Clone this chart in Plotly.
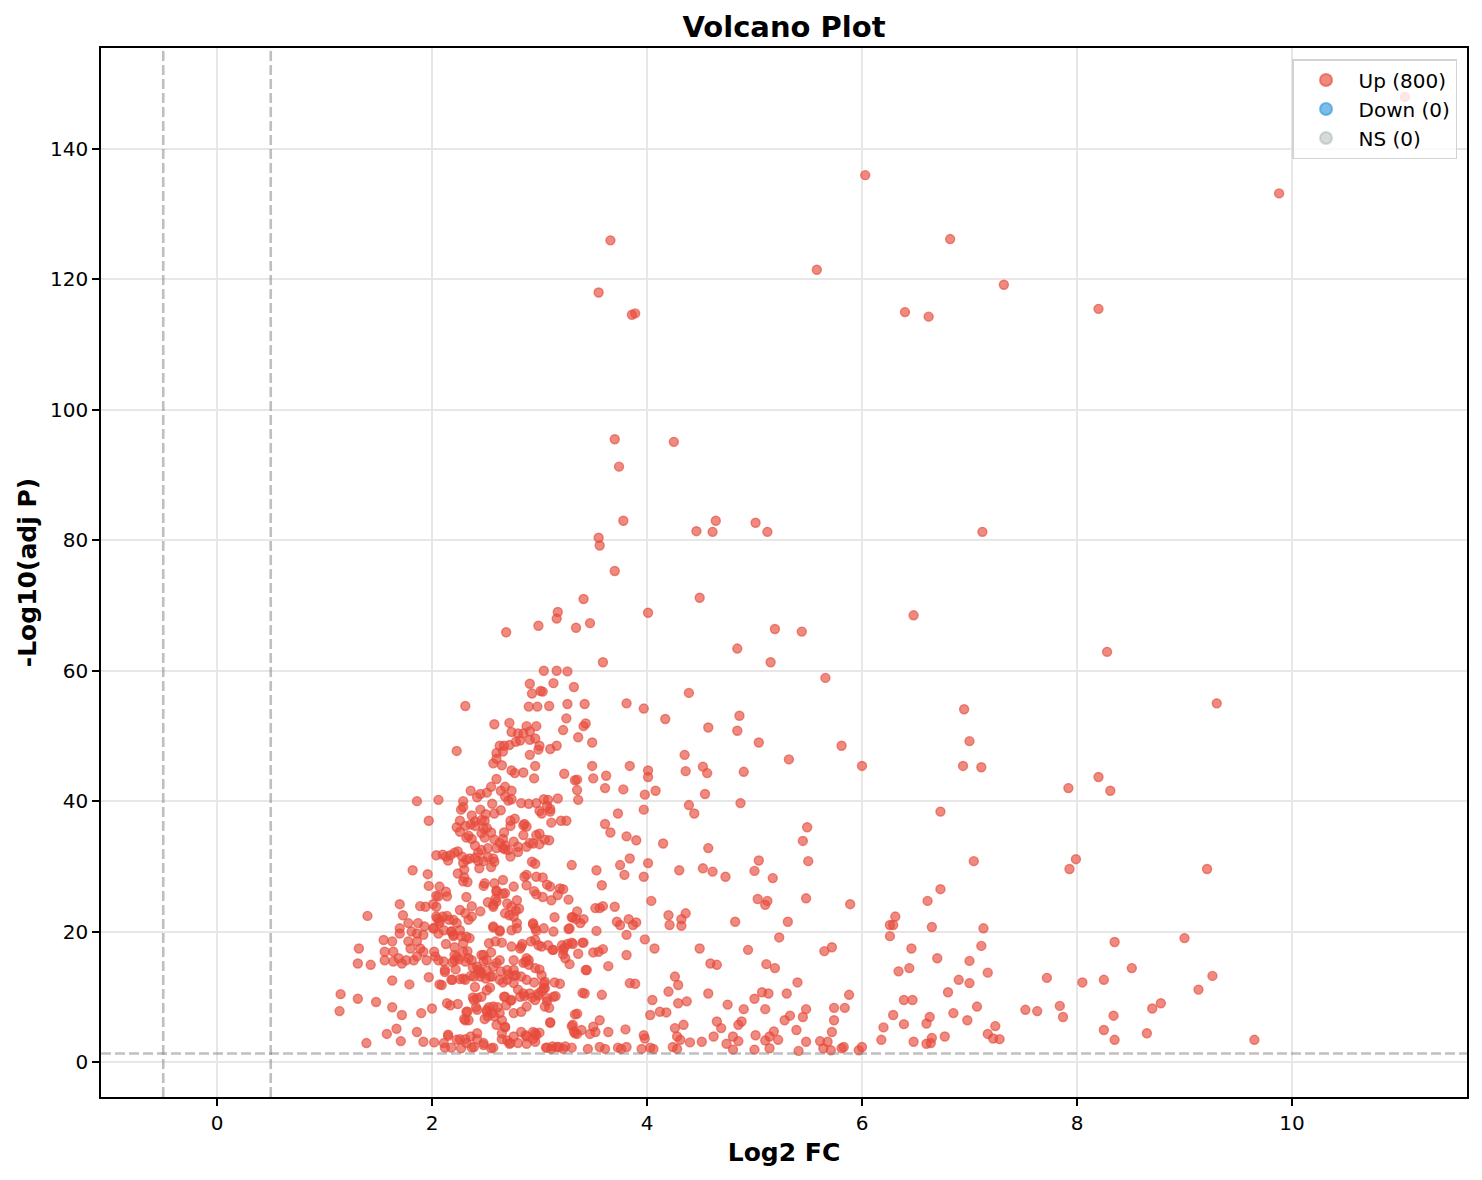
import plotly.graph_objects as go

# values: (log2 fold change, -log10 adjusted p)
# sparse upper part of the cloud
upper_pts = [
    (11.05, 148.0), (6.03, 136.0), (9.88, 133.2), (3.66, 126.0), (6.82, 126.2),
    (5.58, 121.5), (7.32, 119.2), (3.55, 118.0), (6.40, 115.0), (6.62, 114.3),
    (8.20, 115.5), (3.86, 114.6), (3.89, 114.8), (3.70, 95.5), (4.25, 95.1),
    (3.74, 91.3), (3.78, 83.0), (4.64, 83.0), (5.01, 82.7), (3.55, 80.4),
    (3.56, 79.2), (4.46, 81.4), (4.61, 81.3), (5.12, 81.3), (7.12, 81.3),
    (3.70, 75.3), (4.49, 71.2), (3.41, 71.0), (3.17, 69.0), (4.01, 68.9),
    (3.16, 68.0), (6.48, 68.5), (3.47, 67.3), (2.69, 65.9), (2.99, 66.9),
    (3.34, 66.6), (5.19, 66.4), (5.44, 66.0), (4.84, 63.4), (8.28, 62.9),
    (3.59, 61.3), (5.15, 61.3), (3.04, 60.0), (3.16, 60.0), (3.26, 59.9),
    (2.91, 58.0), (3.13, 58.1), (3.32, 57.5), (3.01, 56.9), (3.03, 56.8),
    (2.93, 56.5), (4.39, 56.6), (5.66, 58.9), (9.30, 55.0), (6.95, 54.1),
    (4.86, 53.1), (4.84, 50.8),
]

# x < 2.8, y 28-55
left_mid_pts = [
    (2.31, 54.6), (2.58, 51.8), (2.72, 52.0), (2.74, 50.6), (2.63, 48.5),
    (2.67, 48.5), (2.72, 48.6), (2.60, 47.4), (2.66, 47.6), (2.57, 45.8),
    (2.65, 45.5), (2.23, 47.7), (2.74, 44.7), (2.77, 44.3), (2.60, 43.4),
    (2.68, 42.2), (2.74, 41.6), (2.64, 41.6), (2.36, 41.6), (2.42, 40.6),
    (2.45, 41.1), (2.51, 41.3), (1.86, 40.0), (2.06, 40.2), (1.97, 37.0),
    (2.29, 40.0), (2.29, 39.1), (2.37, 37.8), (2.45, 38.7), (2.36, 36.4),
    (2.40, 36.2), (2.46, 37.1), (2.49, 37.0), (2.31, 36.2), (2.34, 34.7),
    (2.32, 34.4), (2.37, 34.2), (2.46, 35.1), (2.49, 34.4), (2.55, 35.2),
    (2.58, 34.1), (2.67, 35.2), (2.73, 36.2), (2.40, 33.2), (2.43, 32.1),
    (2.52, 32.8), (2.60, 32.8), (2.66, 32.8), (2.21, 32.1), (2.24, 32.3),
    (2.40, 31.3), (2.43, 30.8), (2.04, 31.7), (2.13, 31.5), (2.17, 31.7),
    (2.29, 30.5), (2.30, 29.5), (2.32, 31.0), (2.44, 29.7), (2.55, 29.9),
    (2.57, 31.2), (2.58, 30.7), (2.73, 31.5), (2.68, 32.6), (1.82, 29.4),
    (1.96, 28.8), (2.24, 28.9), (2.33, 27.6), (2.48, 27.0), (2.58, 27.4),
    (2.66, 27.9),
]

# x < 2.8, y below 28
left_low_pts = [
    (1.40, 22.4), (1.70, 24.2), (1.32, 17.4), (1.31, 15.1), (1.43, 14.9),
    (1.15, 10.4), (1.14, 7.8), (1.31, 9.7), (1.48, 9.2), (1.63, 12.5),
    (1.79, 11.9), (1.63, 8.4), (1.72, 7.2), (1.67, 5.1), (1.58, 4.3),
    (1.39, 2.9), (1.71, 3.2), (1.86, 4.6), (1.92, 3.1), (1.90, 7.5),
    (2.00, 8.2), (1.97, 13.0), (2.09, 11.8), (2.17, 8.7), (2.19, 12.6),
    (2.15, 4.2), (2.02, 3.0), (1.97, 27.0), (2.07, 26.9), (2.13, 26.1),
    (2.14, 25.4), (1.89, 23.9), (1.94, 23.8), (2.04, 25.5), (2.04, 23.8),
    (2.32, 25.3), (2.37, 23.9), (2.45, 23.1), (2.29, 27.7), (2.49, 27.4),
    (2.60, 26.1), (2.68, 25.9), (2.76, 26.9), (2.79, 24.8), (2.60, 24.6),
    (2.70, 24.3), (1.73, 22.5), (1.78, 21.3), (1.87, 21.3), (1.93, 20.8),
    (1.70, 20.5), (1.70, 19.7), (1.81, 20.0), (1.86, 19.7), (1.92, 19.5),
    (2.04, 22.3), (2.14, 22.4), (2.20, 21.8), (2.23, 21.3), (2.07, 21.3),
    (2.01, 20.5), (2.06, 19.7), (2.11, 20.2), (2.18, 20.0), (2.20, 19.5),
    (2.26, 20.2), (2.34, 21.8), (2.26, 23.3), (2.31, 22.8), (2.37, 22.3),
    (1.55, 18.7), (1.63, 18.5), (1.56, 16.9), (1.64, 16.9), (1.56, 15.6),
    (1.64, 15.4), (1.72, 15.1), (1.69, 15.9), (1.76, 15.6), (1.80, 17.4),
    (1.78, 18.5), (1.86, 18.5), (1.89, 17.4), (1.83, 15.6), (1.86, 16.2),
    (1.92, 16.9), (1.95, 15.6), (2.03, 16.2), (2.11, 15.4), (2.12, 14.1),
    (2.21, 15.6), (2.21, 16.4), (2.29, 18.2), (2.29, 16.9), (2.35, 19.0),
    (2.31, 15.4), (2.37, 15.6), (2.42, 14.6), (2.48, 16.4), (2.51, 15.6),
    (2.45, 13.9), (2.57, 14.6), (2.63, 15.6), (2.70, 14.1), (2.76, 14.1),
    (2.76, 15.6), (2.57, 20.8), (2.63, 20.2), (2.74, 20.2), (2.79, 21.3),
    (2.76, 22.3), (2.68, 22.8), (2.57, 23.8), (2.18, 12.6), (2.29, 12.8),
    (2.39, 13.1), (2.45, 13.1), (2.51, 11.0), (2.54, 13.1), (2.63, 12.6),
    (2.70, 12.6), (2.76, 12.1), (2.42, 9.8), (2.46, 10.0), (2.39, 9.5),
    (2.32, 7.7), (2.31, 6.4), (2.42, 8.0), (2.51, 8.0), (2.56, 7.5),
    (2.57, 8.5), (2.52, 7.0), (2.63, 7.5), (2.65, 6.4), (2.68, 5.4),
    (2.76, 7.5), (2.74, 9.5), (2.68, 10.0), (2.65, 4.4), (2.76, 3.9),
    (2.11, 2.9), (2.18, 2.2), (2.26, 3.5), (2.32, 2.9), (2.37, 2.2),
    (2.42, 3.5), (2.48, 2.9), (2.57, 2.2), (2.65, 3.5), (2.73, 2.9),
]

# x 2.8-4.7, y 28-55
centre_mid_pts = [
    (2.90, 54.5), (2.98, 54.5), (3.09, 54.6), (3.26, 54.9), (3.42, 54.9),
    (3.81, 55.0), (3.97, 54.2), (4.17, 52.6), (4.57, 51.3), (3.25, 52.7),
    (3.22, 50.9), (3.36, 49.8), (3.41, 51.5), (3.43, 51.9), (3.49, 49.0),
    (2.88, 51.5), (2.97, 51.5), (2.85, 50.4), (2.91, 50.7), (2.96, 49.6),
    (2.91, 49.4), (3.00, 48.5), (3.10, 48.0), (3.16, 48.5), (2.99, 47.9),
    (2.91, 47.1), (4.35, 47.1), (4.36, 44.6), (4.52, 45.3), (4.56, 44.3),
    (2.96, 45.4), (2.95, 43.5), (2.85, 44.4), (3.23, 44.2), (3.35, 43.3),
    (3.35, 41.7), (3.36, 40.2), (3.49, 45.4), (3.50, 43.5), (3.62, 43.9),
    (3.61, 42.0), (3.78, 41.8), (3.84, 45.4), (4.01, 44.7), (4.01, 43.7),
    (3.98, 41.0), (4.08, 41.6), (3.97, 38.7), (4.54, 41.1), (2.90, 39.6),
    (2.97, 39.7), (3.04, 40.3), (3.08, 40.2), (3.17, 40.4), (3.07, 39.3),
    (3.10, 38.4), (3.02, 38.1), (3.11, 36.7), (3.25, 37.0), (3.73, 38.1),
    (3.61, 36.5), (3.66, 35.2), (3.81, 34.6), (3.90, 34.0), (4.15, 33.5),
    (4.39, 39.4), (4.44, 38.1), (4.57, 32.8), (2.85, 36.3), (2.88, 36.1),
    (2.85, 34.8), (2.88, 33.0), (2.94, 33.5), (3.00, 33.4), (2.97, 34.8),
    (3.09, 34.0), (2.93, 30.7), (2.96, 30.4), (2.88, 28.7), (2.97, 28.4),
    (3.30, 30.2), (3.53, 29.4), (3.75, 30.2), (3.84, 31.2), (4.01, 30.5),
    (4.30, 29.4), (4.52, 29.7), (4.61, 29.2), (3.79, 28.7), (3.97, 28.4),
]

# x 2.8-4.7, y below 28
centre_low_pts = [
    (3.58, 27.1), (3.10, 26.9), (3.19, 26.6), (3.11, 24.8), (3.17, 25.6),
    (4.04, 24.7), (3.52, 23.6), (3.56, 23.6), (3.59, 23.9), (3.70, 23.8),
    (4.20, 22.5), (4.21, 21.0), (4.32, 21.9), (4.36, 22.8), (4.32, 20.9),
    (3.14, 22.2), (3.31, 22.2), (3.41, 21.9), (3.38, 21.3), (3.27, 20.4),
    (3.53, 20.1), (3.72, 21.5), (3.75, 21.0), (3.83, 21.9), (3.90, 21.4),
    (3.87, 21.0), (3.81, 19.5), (3.98, 18.8), (4.07, 17.4), (4.49, 17.4),
    (4.59, 15.1), (4.65, 14.9), (2.94, 21.3), (2.96, 20.5), (3.04, 20.5),
    (3.13, 20.0), (2.96, 18.7), (3.02, 17.7), (3.08, 17.9), (3.13, 17.2),
    (3.21, 17.9), (3.22, 17.2), (3.30, 18.3), (3.41, 18.3), (3.24, 15.9),
    (3.28, 15.0), (3.50, 16.8), (3.55, 16.9), (3.59, 17.3), (3.81, 16.4),
    (3.64, 14.7), (3.44, 14.1), (2.83, 17.7), (2.87, 15.4), (2.90, 15.6),
    (2.83, 13.1), (2.88, 12.6), (2.96, 14.4), (3.02, 13.3), (3.05, 12.3),
    (2.85, 10.5), (2.91, 10.5), (2.99, 10.5), (3.04, 11.3), (3.07, 9.8),
    (3.13, 10.0), (3.05, 8.5), (2.88, 8.5), (2.83, 7.7), (3.19, 12.0),
    (3.42, 10.5), (3.58, 10.3), (3.84, 12.1), (3.89, 12.0), (4.26, 13.1),
    (4.29, 11.8), (4.20, 10.8), (4.57, 10.5), (4.05, 9.5), (4.12, 7.7),
    (4.18, 7.6), (4.29, 9.0), (4.37, 9.3), (3.35, 7.4), (3.31, 5.7),
    (3.39, 4.9), (3.33, 4.4), (3.50, 5.4), (3.52, 4.6), (3.56, 6.4),
    (3.64, 4.6), (3.80, 5.0), (3.97, 4.1), (3.98, 3.6), (4.03, 7.2),
    (4.26, 5.2), (4.34, 5.7), (4.28, 3.9), (4.31, 3.4), (4.65, 6.2),
    (4.62, 3.9), (4.51, 3.1), (4.40, 3.0), (2.94, 4.6), (2.97, 4.1),
    (2.96, 3.1), (2.87, 4.1), (3.10, 6.0), (2.88, 2.8), (3.07, 2.2),
    (3.11, 2.0), (3.16, 2.3), (3.22, 2.0), (3.30, 2.2), (3.45, 2.0),
    (3.56, 2.3), (3.61, 2.0), (3.73, 2.2), (3.76, 2.0), (3.81, 2.3),
    (3.95, 2.0), (4.03, 2.2), (4.06, 2.0), (4.24, 2.3), (4.28, 2.0),
]

# x 4.7-7.5
right_pts = [
    (5.04, 49.0), (5.81, 48.5), (5.32, 46.4), (4.90, 44.5), (6.00, 45.4),
    (6.94, 45.4), (7.11, 45.2), (7.00, 49.2), (4.87, 39.7), (6.73, 38.4),
    (5.49, 36.0), (5.45, 33.9), (5.50, 30.8), (7.04, 30.8), (4.73, 28.4),
    (5.00, 29.3), (5.04, 30.9), (5.17, 28.2), (6.73, 26.5), (6.61, 24.7),
    (5.03, 25.0), (5.10, 24.1), (5.12, 24.7), (5.48, 25.1), (5.89, 24.2),
    (4.82, 21.5), (5.31, 21.5), (5.23, 19.1), (6.26, 21.0), (6.29, 21.0),
    (6.31, 22.3), (6.26, 19.3), (6.65, 20.7), (6.46, 17.4), (6.70, 15.9),
    (7.13, 20.5), (7.11, 17.8), (4.94, 17.2), (5.11, 15.0), (5.19, 14.4),
    (5.65, 17.0), (5.72, 17.6), (5.40, 12.2), (5.30, 10.5), (5.07, 10.7),
    (5.13, 10.5), (5.00, 9.7), (4.75, 8.8), (4.90, 8.1), (5.10, 8.1),
    (5.48, 8.1), (5.74, 8.3), (5.84, 8.3), (5.88, 10.3), (6.34, 13.9),
    (6.44, 14.4), (6.90, 12.6), (7.00, 15.5), (7.00, 12.1), (7.17, 13.7),
    (6.80, 10.7), (6.39, 9.5), (6.47, 9.5), (6.29, 7.2), (6.20, 5.3),
    (6.39, 5.8), (6.85, 7.5), (6.98, 6.4), (7.07, 8.5), (6.60, 5.9),
    (6.63, 6.9), (7.24, 5.5), (7.17, 4.3), (7.22, 3.6), (7.28, 3.5),
    (6.18, 3.4), (6.48, 3.1), (6.60, 2.8), (6.64, 2.9), (6.65, 3.7),
    (6.77, 3.9), (4.69, 5.2), (4.74, 2.8), (4.80, 1.9), (4.80, 3.9),
    (4.85, 5.7), (4.88, 6.2), (4.85, 3.2), (5.01, 4.1), (5.00, 1.9),
    (5.10, 3.3), (5.14, 2.1), (5.14, 3.9), (5.18, 4.7), (5.22, 3.4),
    (5.28, 6.4), (5.33, 7.1), (5.39, 4.9), (5.45, 6.9), (5.48, 3.1),
    (5.41, 1.7), (5.61, 3.2), (5.64, 2.1), (5.68, 3.1), (5.71, 1.8),
    (5.72, 4.6), (5.74, 6.4), (5.81, 2.1), (5.83, 2.3), (5.97, 1.8),
    (6.00, 2.3),
]

# x beyond 7.5
far_right_pts = [
    (7.92, 42.0), (8.20, 43.7), (8.31, 41.6), (7.99, 31.1), (7.93, 29.6),
    (9.21, 29.6), (8.35, 18.4), (9.00, 19.0), (8.51, 14.4), (9.26, 13.2),
    (9.13, 11.1), (7.72, 12.9), (8.05, 12.2), (8.25, 12.6), (7.52, 8.0),
    (7.63, 7.8), (7.84, 8.6), (7.87, 6.9), (8.34, 7.1), (8.25, 4.9),
    (8.35, 3.4), (8.70, 8.2), (8.78, 9.0), (8.65, 4.4), (9.65, 3.4),
]

# extra points in the crowded core around log2 FC 2-3.5
core_pts = [
    (2.80, 50.4), (2.78, 49.1), (2.82, 49.3), (2.60, 46.5), (2.55, 42.2),
    (2.68, 40.7), (2.74, 40.3), (2.27, 38.7), (2.56, 39.6), (2.64, 38.6),
    (2.58, 38.1), (2.50, 38.0), (2.26, 37.0), (2.40, 36.9), (2.71, 40.1),
    (2.83, 39.7), (2.77, 37.3), (2.73, 37.0), (2.23, 36.0), (2.26, 35.3),
    (2.48, 35.8), (2.51, 35.9), (2.63, 33.6), (2.68, 33.2), (2.66, 34.2),
    (2.76, 33.8), (2.80, 33.0), (2.46, 32.5), (2.52, 31.4), (2.48, 30.8),
    (2.35, 31.2), (2.28, 31.5), (2.10, 31.8), (2.15, 30.9), (2.30, 28.3),
    (2.71, 32.5), (2.80, 32.2), (2.06, 25.4), (2.01, 24.2), (2.52, 24.5),
    (2.57, 24.1), (2.60, 26.3), (2.66, 25.8), (2.59, 25.0), (2.74, 23.8),
    (2.78, 23.2), (2.81, 23.5), (2.72, 22.5), (2.02, 20.5), (2.05, 22.0),
    (2.07, 21.6), (2.10, 22.3), (2.02, 16.9), (2.06, 15.6), (2.07, 11.9),
    (2.13, 18.1), (2.16, 21.8), (2.12, 13.8), (2.14, 9.0), (2.15, 4.0),
    (2.12, 2.2), (2.18, 20.0), (2.20, 19.3), (2.21, 17.6), (2.23, 16.1),
    (2.19, 15.3), (2.22, 14.2), (2.25, 15.7), (2.27, 19.3), (2.26, 12.7),
    (2.24, 8.9), (2.23, 3.4), (2.27, 2.1), (2.30, 6.6), (2.31, 3.5),
    (2.32, 19.2), (2.33, 17.0), (2.34, 15.9), (2.36, 13.2), (2.31, 12.6),
    (2.38, 14.5), (2.40, 11.5), (2.38, 9.9), (2.41, 8.4), (2.42, 4.4),
    (2.39, 2.3), (2.36, 3.9), (2.34, 6.4), (2.33, 7.7), (2.43, 14.1),
    (2.46, 16.4), (2.48, 15.4), (2.46, 13.6), (2.50, 12.8), (2.51, 14.0),
    (2.53, 18.2), (2.55, 16.8), (2.57, 20.6), (2.59, 18.5), (2.60, 15.2),
    (2.56, 13.1), (2.54, 11.4), (2.53, 8.4), (2.51, 7.7), (2.49, 6.6),
    (2.48, 2.6), (2.55, 2.1), (2.58, 7.0), (2.60, 5.7), (2.61, 8.4),
    (2.63, 20.0), (2.65, 18.3), (2.64, 13.9), (2.66, 12.2), (2.67, 10.0),
    (2.69, 8.7), (2.68, 5.3), (2.70, 3.3), (2.72, 2.8), (2.71, 13.4),
    (2.74, 17.7), (2.76, 13.2), (2.73, 9.4), (2.78, 13.3), (2.80, 11.1),
    (2.82, 10.0), (2.79, 20.5), (2.82, 17.4), (2.84, 18.1), (2.85, 15.2),
    (2.83, 4.6), (2.80, 2.9), (2.86, 28.4), (2.88, 27.1), (2.95, 26.2),
    (2.97, 25.7), (3.03, 25.3), (3.07, 27.2), (3.22, 26.5), (3.27, 24.9),
    (3.35, 23.1), (3.30, 22.2), (3.28, 20.5), (3.31, 18.1), (3.34, 21.9),
    (3.40, 18.3), (3.36, 16.6), (3.22, 16.5), (3.26, 18.1), (3.23, 17.5),
    (2.88, 15.9), (2.90, 14.9), (2.92, 18.5), (2.94, 21.1), (2.97, 20.1),
    (2.99, 17.9), (3.00, 14.2), (2.95, 12.2), (2.93, 9.9), (2.96, 9.5),
    (2.99, 10.2), (3.02, 10.9), (3.04, 12.0), (3.05, 11.3), (3.00, 4.5),
    (2.96, 4.4), (2.94, 3.5), (3.07, 9.3), (3.09, 8.3), (3.10, 6.1),
    (3.06, 2.2), (3.12, 2.4), (3.15, 10.1), (3.12, 17.2), (3.14, 12.2),
    (3.18, 2.3), (3.24, 2.4), (2.86, 10.1), (2.88, 3.9), (3.30, 5.5),
    (3.32, 4.7), (3.33, 7.3), (3.35, 4.3), (3.40, 10.6), (3.43, 14.1),
    (3.47, 4.3), (3.00, 35.0), (3.05, 34.1), (2.86, 36.5), (3.03, 28.3),
    (2.91, 33.6), (3.20, 37.0), (3.33, 43.2), (3.00, 38.5), (3.10, 38.8),
]

# counts shown in the legend of the reference
legend_counts = {"Up": 800, "Down": 0, "NS": 0}

up_points = (upper_pts + left_mid_pts + left_low_pts + centre_mid_pts
             + centre_low_pts + right_pts + far_right_pts + core_pts)
log2_fc = [p[0] for p in up_points]
neg_log10_p = [p[1] for p in up_points]

FONT = "DejaVu Sans"
# the page has an 8px body margin, so the figure is a bit smaller than the window
WIDTH, HEIGHT = 1474, 1172


def marker_style(rgb: str, alpha: float) -> dict:
    # matplotlib style: semi transparent face with an edge in the same colour
    return dict(
        size=9,
        color=f"rgba({rgb},{alpha})",
        line=dict(color=f"rgba({rgb},{alpha})", width=1.4),
    )


fig = go.Figure()
fig.add_trace(
    go.Scatter(
        x=log2_fc,
        y=neg_log10_p,
        mode="markers",
        name=f"Up ({legend_counts['Up']})",
        marker=marker_style("231,76,60", 0.65),
    )
)
fig.add_trace(
    go.Scatter(
        x=[None],
        y=[None],
        mode="markers",
        name=f"Down ({legend_counts['Down']})",
        marker=marker_style("52,152,219", 0.65),
    )
)
fig.add_trace(
    go.Scatter(
        x=[None],
        y=[None],
        mode="markers",
        name=f"NS ({legend_counts['NS']})",
        marker=marker_style("149,165,166", 0.4),
    )
)

# threshold lines
dash = dict(color="rgba(128,128,128,0.5)", width=2.6, dash="10px,4px")
for xv in (-0.5, 0.5):
    fig.add_shape(type="line", xref="x", yref="paper", x0=xv, x1=xv, y0=0, y1=1,
                  line=dash, layer="above")
fig.add_shape(type="line", xref="paper", yref="y", x0=0, x1=1, y0=1.301, y1=1.301,
              line=dash, layer="above")

axis_common = dict(
    showgrid=True,
    gridcolor="#e7e7e7",
    gridwidth=1.6,
    zeroline=False,
    showline=True,
    mirror=True,
    linecolor="black",
    linewidth=1.7,
    ticks="outside",
    ticklen=7,
    tickwidth=1.7,
    tickcolor="black",
    tickfont=dict(family=FONT, size=20, color="black"),
)

fig.update_layout(
    autosize=False,
    width=WIDTH,
    height=HEIGHT,
    margin=dict(l=93, r=15, t=40, b=83),
    paper_bgcolor="white",
    plot_bgcolor="white",
    font=dict(family=FONT, color="black"),
    title=dict(
        text="Volcano Plot",
        font=dict(family=FONT, size=29, color="black", weight="bold"),
        x=0.5,
        xref="paper",
        xanchor="center",
        y=1 - 19 / HEIGHT,
        yref="container",
        yanchor="middle",
    ),
    xaxis=dict(
        axis_common,
        range=[-1.079, 11.628],
        tickvals=[0, 2, 4, 6, 8, 10],
        title=dict(text="Log2 FC", font=dict(family=FONT, size=25, weight="bold"),
                   standoff=10),
    ),
    yaxis=dict(
        axis_common,
        range=[-5.37, 155.5],
        tickvals=[0, 20, 40, 60, 80, 100, 120, 140],
        title=dict(text="-Log10(adj P)", font=dict(family=FONT, size=25, weight="bold"),
                   standoff=6),
    ),
    legend=dict(
        x=0.9927,
        y=0.9895,
        xanchor="right",
        yanchor="top",
        bgcolor="rgba(255,255,255,0.8)",
        bordercolor="#d3d3d3",
        borderwidth=1.5,
        font=dict(family=FONT, size=20, color="black"),
        itemsizing="constant",
        itemwidth=55,
        tracegroupgap=0,
    ),
    showlegend=True,
)

fig.write_html("out.html")
